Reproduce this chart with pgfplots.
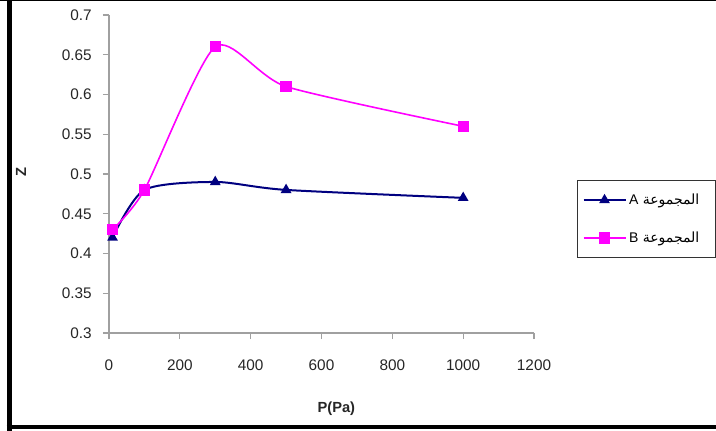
\documentclass[border=0pt]{standalone}
\usepackage{pgfplots}
\pgfplotsset{compat=1.18}
\usepackage{fontspec}
\setmainfont{Liberation Sans}
\newfontfamily\arabicfont[Script=Arabic]{DejaVu Sans}
\TeXXeTstate=1
\definecolor{navyA}{RGB}{0,0,128}
\definecolor{magB}{RGB}{255,0,255}
\definecolor{axgray}{RGB}{160,160,160}
\begin{document}
\begin{tikzpicture}
\useasboundingbox (0,0) rectangle (537pt,322.5pt);
\fill[white] (0,0) rectangle (537pt,322.5pt);
% outer frame
\draw[line width=3.75pt,black] (7.125pt,-5pt) -- (7.125pt,330pt);
\draw[line width=2.2pt,black] (0,322.5pt) -- (545pt,322.5pt);
\draw[line width=3pt,black] (5pt,2.5pt) -- (545pt,2.5pt);
\begin{axis}[
  at={(81.75pt,72.75pt)}, anchor=south west,
  scale only axis, width=318.75pt, height=238.5pt,
  xmin=0, xmax=1200, ymin=0.3, ymax=0.7,
  xtick={0,200,...,1200},
  ytick={0.3,0.35,0.4,0.45,0.5,0.55,0.6,0.65,0.7},
  axis lines=left, axis line style={-, axgray, line width=0.9pt},
  tick align=outside, major tick length=4.5pt,
  tick style={axgray, line width=0.9pt},
  /pgf/number format/assume math mode=true,
  yticklabel style={/pgf/number format/fixed, /pgf/number format/precision=2, font=\fontsize{11.5}{13}\selectfont, xshift=-5pt, text=black!85},
  xticklabel style={/pgf/number format/fixed, /pgf/number format/1000 sep={}, font=\fontsize{11.5}{13}\selectfont, yshift=-12pt, text=black!85},
  xlabel={\textbf{P(Pa)}}, ylabel={\textbf{Z}},
  xlabel style={at={(axis description cs:0.535,-0.239)}, anchor=center, font=\fontsize{11}{12}\selectfont, text=black!85},
  ylabel style={at={(axis description cs:-0.207,0.506)}, anchor=center, rotate=0, font=\fontsize{11}{12}\selectfont, text=black!85},
  legend style={at={(1.101,0.481)}, anchor=north west, draw=black!80, line width=0.6pt,
     font=\fontsize{10.5}{12}\selectfont, row sep=15pt, inner xsep=4pt, inner ysep=8pt,
     legend cell align=left},
  legend image code/.code={\draw[mark repeat=2,mark phase=2] plot coordinates {(0cm,0cm)(0.55cm,0cm)(1.1cm,0cm)};},
]
\addplot[navyA, line width=1.5pt, smooth, tension=0.45, mark=triangle*, mark size=3.2pt, mark options={solid, fill=navyA}]
  coordinates {(10,0.42) (100,0.48) (300,0.49) (500,0.48) (1000,0.47)};
\addlegendentry{{\arabicfont\beginR المجموعة \beginL{\rmfamily A}\endL\endR}\hspace*{6pt}}
\addplot[magB, line width=1.2pt, smooth, tension=0.4, mark=square*, mark size=3.6pt, mark options={solid, fill=magB}]
  coordinates {(10,0.43) (100,0.48) (300,0.66) (500,0.61) (1000,0.56)};
\addlegendentry{{\arabicfont\beginR المجموعة \beginL{\rmfamily B}\endL\endR}\hspace*{6pt}}
\end{axis}
\end{tikzpicture}
\end{document}
